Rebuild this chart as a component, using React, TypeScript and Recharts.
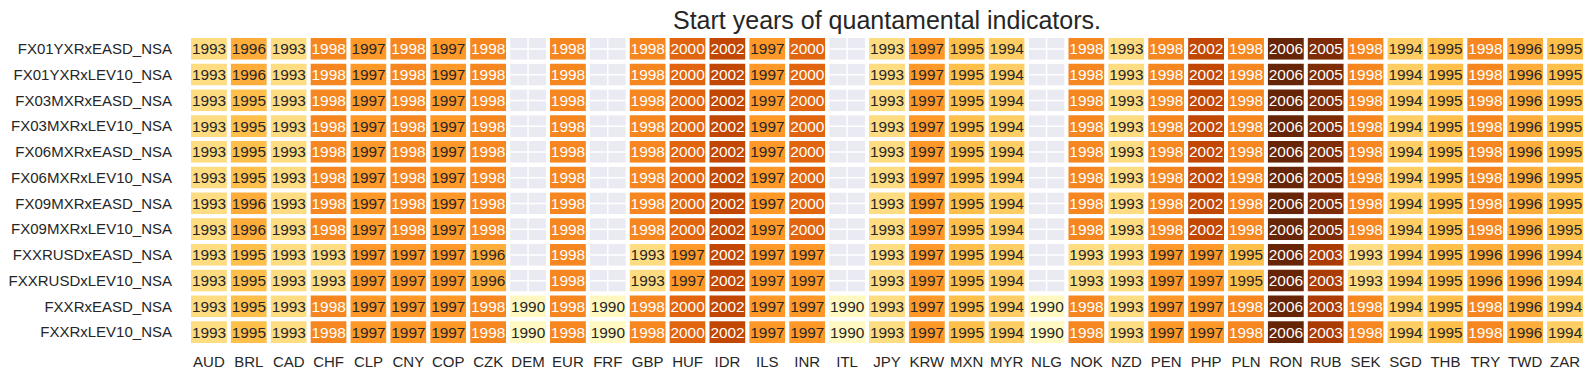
import React from 'react';
import { BarChart, Bar, XAxis, YAxis, CartesianGrid } from 'recharts';

const currencies = [
  'AUD', 'BRL', 'CAD', 'CHF', 'CLP', 'CNY', 'COP', 'CZK', 'DEM', 'EUR', 'FRF', 'GBP',
  'HUF', 'IDR', 'ILS', 'INR', 'ITL', 'JPY', 'KRW', 'MXN', 'MYR', 'NLG', 'NOK', 'NZD',
  'PEN', 'PHP', 'PLN', 'RON', 'RUB', 'SEK', 'SGD', 'THB', 'TRY', 'TWD', 'ZAR',
];

const indicators = [
  'FX01YXRxEASD_NSA', 'FX01YXRxLEV10_NSA', 'FX03MXRxEASD_NSA', 'FX03MXRxLEV10_NSA',
  'FX06MXRxEASD_NSA', 'FX06MXRxLEV10_NSA', 'FX09MXRxEASD_NSA', 'FX09MXRxLEV10_NSA',
  'FXXRUSDxEASD_NSA', 'FXXRUSDxLEV10_NSA', 'FXXRxEASD_NSA', 'FXXRxLEV10_NSA',
];

const n = null;

// one row per indicator, one value per currency (null = no data)
const fx01yEasd = [1993, 1996, 1993, 1998, 1997, 1998, 1997, 1998, n, 1998, n, 1998, 2000, 2002, 1997, 2000, n, 1993, 1997, 1995, 1994, n, 1998, 1993, 1998, 2002, 1998, 2006, 2005, 1998, 1994, 1995, 1998, 1996, 1995];
const fx01yLev10 = [1993, 1996, 1993, 1998, 1997, 1998, 1997, 1998, n, 1998, n, 1998, 2000, 2002, 1997, 2000, n, 1993, 1997, 1995, 1994, n, 1998, 1993, 1998, 2002, 1998, 2006, 2005, 1998, 1994, 1995, 1998, 1996, 1995];
const fx03mEasd = [1993, 1995, 1993, 1998, 1997, 1998, 1997, 1998, n, 1998, n, 1998, 2000, 2002, 1997, 2000, n, 1993, 1997, 1995, 1994, n, 1998, 1993, 1998, 2002, 1998, 2006, 2005, 1998, 1994, 1995, 1998, 1996, 1995];
const fx03mLev10 = [1993, 1995, 1993, 1998, 1997, 1998, 1997, 1998, n, 1998, n, 1998, 2000, 2002, 1997, 2000, n, 1993, 1997, 1995, 1994, n, 1998, 1993, 1998, 2002, 1998, 2006, 2005, 1998, 1994, 1995, 1998, 1996, 1995];
const fx06mEasd = [1993, 1995, 1993, 1998, 1997, 1998, 1997, 1998, n, 1998, n, 1998, 2000, 2002, 1997, 2000, n, 1993, 1997, 1995, 1994, n, 1998, 1993, 1998, 2002, 1998, 2006, 2005, 1998, 1994, 1995, 1998, 1996, 1995];
const fx06mLev10 = [1993, 1995, 1993, 1998, 1997, 1998, 1997, 1998, n, 1998, n, 1998, 2000, 2002, 1997, 2000, n, 1993, 1997, 1995, 1994, n, 1998, 1993, 1998, 2002, 1998, 2006, 2005, 1998, 1994, 1995, 1998, 1996, 1995];
const fx09mEasd = [1993, 1996, 1993, 1998, 1997, 1998, 1997, 1998, n, 1998, n, 1998, 2000, 2002, 1997, 2000, n, 1993, 1997, 1995, 1994, n, 1998, 1993, 1998, 2002, 1998, 2006, 2005, 1998, 1994, 1995, 1998, 1996, 1995];
const fx09mLev10 = [1993, 1996, 1993, 1998, 1997, 1998, 1997, 1998, n, 1998, n, 1998, 2000, 2002, 1997, 2000, n, 1993, 1997, 1995, 1994, n, 1998, 1993, 1998, 2002, 1998, 2006, 2005, 1998, 1994, 1995, 1998, 1996, 1995];
const fxUsdEasd = [1993, 1995, 1993, 1993, 1997, 1997, 1997, 1996, n, 1998, n, 1993, 1997, 2002, 1997, 1997, n, 1993, 1997, 1995, 1994, n, 1993, 1993, 1997, 1997, 1995, 2006, 2003, 1993, 1994, 1995, 1996, 1996, 1994];
const fxUsdLev10 = [1993, 1995, 1993, 1993, 1997, 1997, 1997, 1996, n, 1998, n, 1993, 1997, 2002, 1997, 1997, n, 1993, 1997, 1995, 1994, n, 1993, 1993, 1997, 1997, 1995, 2006, 2003, 1993, 1994, 1995, 1996, 1996, 1994];
const fxEasd = [1993, 1995, 1993, 1998, 1997, 1997, 1997, 1998, 1990, 1998, 1990, 1998, 2000, 2002, 1997, 1997, 1990, 1993, 1997, 1995, 1994, 1990, 1998, 1993, 1997, 1997, 1998, 2006, 2003, 1998, 1994, 1995, 1998, 1996, 1994];
const fxLev10 = [1993, 1995, 1993, 1998, 1997, 1997, 1997, 1998, 1990, 1998, 1990, 1998, 2000, 2002, 1997, 1997, 1990, 1993, 1997, 1995, 1994, 1990, 1998, 1993, 1997, 1997, 1998, 2006, 2003, 1998, 1994, 1995, 1998, 1996, 1994];

const years = [
  fx01yEasd, fx01yLev10, fx03mEasd, fx03mLev10, fx06mEasd, fx06mLev10,
  fx09mEasd, fx09mLev10, fxUsdEasd, fxUsdLev10, fxEasd, fxLev10,
];

// YlOrBr
const stops = ['#ffffe5', '#fff7bc', '#fee391', '#fec44f', '#fe9929', '#ec7014', '#cc4c02', '#993404', '#662506'];
const vmin = 1988;
const vmax = 2006;

const hex = (s: string) => [1, 3, 5].map((i) => parseInt(s.slice(i, i + 2), 16));

const colorFor = (v: number) => {
  const t = Math.max(0, Math.min(1, (v - vmin) / (vmax - vmin))) * (stops.length - 1);
  const i = Math.min(stops.length - 2, Math.floor(t));
  const f = t - i;
  const a = hex(stops[i]);
  const b = hex(stops[i + 1]);
  const c = a.map((x, k) => Math.round(x + (b[k] - x) * f));
  return `rgb(${c[0]},${c[1]},${c[2]})`;
};

// every cell is one unit of a stacked column
const data = currencies.map((cur) => {
  const row: Record<string, any> = { cur };
  indicators.forEach((_, r) => {
    row[`r${r}`] = 1;
  });
  return row;
});

const rowTicks = indicators.map((_, r) => r + 0.5);

const font = '"Liberation Sans", Arial, sans-serif';

const makeCell = (r: number) => (props: any) => {
  const { x, y, width, height, index } = props;
  const top = Math.min(y, y + height);
  const h = Math.abs(height);
  const v = years[r][index];
  if (v == null) {
    return <rect x={x} y={top} width={width} height={h} fill="none" stroke="#fff" strokeWidth={4} />;
  }
  return (
    <g>
      <rect x={x} y={top} width={width} height={h} fill={colorFor(v)} stroke="#fff" strokeWidth={4} />
      <text
        x={x + width / 2}
        y={top + h / 2}
        textAnchor="middle"
        dominantBaseline="central"
        fontSize={15.4}
        fontFamily={font}
        fill={v >= 1998 ? '#ffffff' : '#262626'}
      >
        {v}
      </text>
    </g>
  );
};

export default function App() {
  return (
    <div style={{ position: 'absolute', left: 0, top: 0, width: 1593, height: 381, background: '#fff' }}>
      <div
        style={{
          position: 'absolute',
          left: 189,
          width: 1396,
          top: 8,
          textAlign: 'center',
          fontFamily: font,
          fontSize: 25,
          lineHeight: '25px',
          color: '#262626',
        }}
      >
        Start years of quantamental indicators.
      </div>
      <BarChart
        width={1593}
        height={381}
        data={data}
        margin={{ top: 36, right: 8, left: 0, bottom: 0 }}
        barCategoryGap={0}
        barGap={0}
      >
        <CartesianGrid fill="#eaeaf2" stroke="#ffffff" strokeWidth={1.5} />
        <XAxis
          dataKey="cur"
          interval={0}
          tickLine={false}
          axisLine={false}
          height={36}
          tickMargin={5}
          tick={{ fontSize: 15, fill: '#262626', fontFamily: font }}
        />
        <YAxis
          type="number"
          domain={[0, 12]}
          reversed
          ticks={rowTicks}
          interval={0}
          width={189}
          tickLine={false}
          axisLine={false}
          tickMargin={11}
          tickFormatter={(v: number) => indicators[Math.floor(v)]}
          tick={{ fontSize: 15, fill: '#262626', fontFamily: font }}
        />
        {indicators.map((name, r) => (
          <Bar key={name} dataKey={`r${r}`} stackId="a" isAnimationActive={false} shape={makeCell(r)} />
        ))}
      </BarChart>
    </div>
  );
}
